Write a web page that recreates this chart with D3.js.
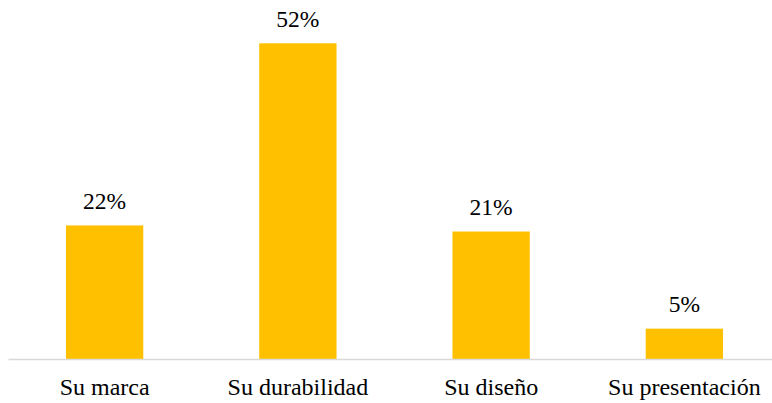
<!DOCTYPE html>
<html>
<head>
<meta charset="utf-8">
<script src="https://cdn.jsdelivr.net/npm/d3@7"></script>
<style>
  html, body { margin: 0; padding: 0; background: #fff; }
  svg { display: block; }
</style>
</head>
<body>
<svg id="chart" width="772" height="403"></svg>
<script>
// Reasons for choosing the product (percent of responses)
const categories = ["Su marca", "Su durabilidad", "Su diseño", "Su presentación"];
const values = [22, 52, 21, 5];

const serif = "'Liberation Serif', 'Times New Roman', serif";
const baseline = 359;
const svg = d3.select("#chart");

const x = d3.scaleBand()
  .domain(categories)
  .range([8, 781])
  .paddingInner(0.6)
  .paddingOuter(0.3);

const y = d3.scaleLinear()
  .domain([0, 52])
  .range([baseline, 43.3]);

// bars
svg.append("g")
  .selectAll("rect")
  .data(categories)
  .join("rect")
  .attr("x", d => x(d))
  .attr("width", x.bandwidth())
  .attr("y", (d, i) => y(values[i]))
  .attr("height", (d, i) => baseline - y(values[i]))
  .attr("fill", "#FFC000");

// value labels
svg.append("g")
  .selectAll("text")
  .data(categories)
  .join("text")
  .attr("x", d => x(d) + x.bandwidth() / 2)
  .attr("y", (d, i) => y(values[i]) - 16.5)
  .attr("text-anchor", "middle")
  .style("font-family", serif)
  .style("font-size", "23.5px")
  .attr("fill", "#000")
  .text((d, i) => values[i] + "%");

// category axis
const axis = svg.append("g")
  .attr("transform", `translate(0,${baseline})`)
  .call(d3.axisBottom(x).tickSize(0).tickPadding(19));
axis.select(".domain").attr("stroke", "#d9d9d9").attr("stroke-width", 1.5);
axis.selectAll("text")
  .style("font-size", "24px")
  .style("font-family", serif)
  .attr("fill", "#000")
  .attr("dy", "0.71em");
</script>
</body>
</html>
